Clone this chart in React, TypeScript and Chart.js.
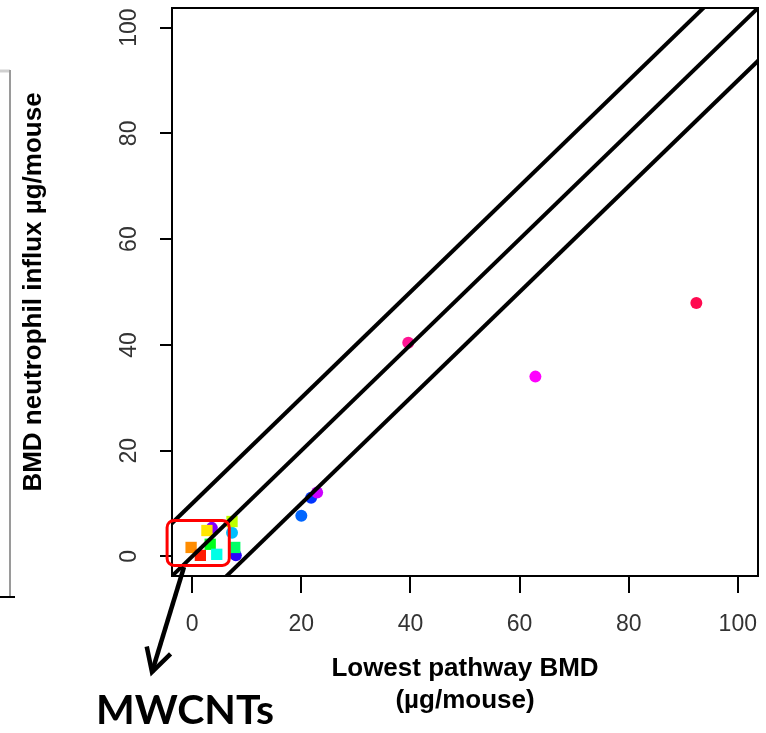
import React, { useEffect, useRef } from 'react';
import { Chart, registerables } from 'chart.js';

Chart.register(...registerables);

// ---- data ----
const X_TICKS = [0, 20, 40, 60, 80, 100];
const Y_TICKS = [0, 20, 40, 60, 80, 100];
const AXIS_MIN = -3.7;
const AXIS_MAX = 103.7;

const X_TITLE = ['Lowest pathway BMD', '(µg/mouse)'];
const Y_TITLE = 'BMD neutrophil influx µg/mouse';
const CALLOUT = 'MWCNTs';

// square markers (pch 15)
const squareX = [-0.2, 1.5, 2.7, 7.3, 3.3, 7.8, 4.5];
const squareY = [1.7, 0.2, 4.9, 6.6, 2.3, 1.7, 0.4];
const squareColors = ['#FF8C00', '#FF1A00', '#FFE600', '#BFFF00', '#00FF1A', '#00FF66', '#00FFE6'];

// circle markers (pch 19)
const circleX = [3.6, 7.3, 8.0, 20.0, 21.8, 22.9, 39.6, 62.9, 92.4];
const circleY = [5.4, 4.5, 0.2, 7.7, 11.1, 12.1, 40.4, 34.0, 47.9];
const circleColors = ['#8000FF', '#00BFFF', '#2A00FF', '#0066FF', '#0033FF', '#CC00FF', '#FF1493', '#FF00FF', '#FF0A50'];

// reference lines: y = x + 10, y = x, y = x - 10
const diagX = [-20, 130];
const upperY = [-10, 140];
const identY = [-20, 130];
const lowerY = [-30, 120];

const toPts = (xs: number[], ys: number[]) => xs.map((x, i) => ({ x, y: ys[i] }));

const noPad = (s: any) => {
  s.paddingTop = 0;
  s.paddingBottom = 0;
  s.paddingLeft = 0;
  s.paddingRight = 0;
};

const annotations = {
  id: 'annotations',
  afterDraw(chart: any) {
    const { ctx, chartArea, scales } = chart;
    const xs = scales.x;
    const ys = scales.y;
    ctx.save();
    // plot box
    ctx.strokeStyle = '#000';
    ctx.lineWidth = 2;
    ctx.strokeRect(chartArea.left, chartArea.top, chartArea.right - chartArea.left, chartArea.bottom - chartArea.top);

    // red rounded rectangle around MWCNT cluster
    const rx1 = xs.getPixelForValue(-4.6);
    const rx2 = xs.getPixelForValue(6.8);
    const ry1 = ys.getPixelForValue(6.8);
    const ry2 = ys.getPixelForValue(-1.7);
    ctx.strokeStyle = '#FF0000';
    ctx.lineWidth = 3;
    ctx.beginPath();
    (ctx as any).roundRect(rx1, ry1, rx2 - rx1, ry2 - ry1, 7);
    ctx.stroke();

    // arrow
    const sx = 184, sy = 567, tx = 152, ty = 672;
    ctx.strokeStyle = '#000';
    ctx.lineWidth = 4.5;
    ctx.lineCap = 'butt';
    ctx.beginPath();
    ctx.moveTo(sx, sy);
    ctx.lineTo(tx, ty);
    ctx.stroke();
    const ang = Math.atan2(ty - sy, tx - sx);
    const hl = 26;
    ctx.lineJoin = 'miter';
    ctx.beginPath();
    ctx.moveTo(tx + hl * Math.cos(ang + Math.PI - 0.5), ty + hl * Math.sin(ang + Math.PI - 0.5));
    ctx.lineTo(tx, ty);
    ctx.lineTo(tx + hl * Math.cos(ang + Math.PI + 0.5), ty + hl * Math.sin(ang + Math.PI + 0.5));
    ctx.stroke();

    // callout text
    ctx.fillStyle = '#000';
    ctx.font = 'bold 41px Lato, "Liberation Sans", Arial, sans-serif';
    ctx.textAlign = 'left';
    ctx.textBaseline = 'middle';
    ctx.fillText(CALLOUT, 96, 711);

    // fragment of neighbouring panel frame
    ctx.strokeStyle = '#d0d0d0';
    ctx.lineWidth = 3;
    ctx.beginPath();
    ctx.moveTo(0, 71);
    ctx.lineTo(10, 71);
    ctx.stroke();
    ctx.strokeStyle = '#9a9a9a';
    ctx.lineWidth = 2;
    ctx.beginPath();
    ctx.moveTo(10, 70);
    ctx.lineTo(10, 596);
    ctx.stroke();
    ctx.strokeStyle = '#000';
    ctx.lineWidth = 2;
    ctx.beginPath();
    ctx.moveTo(0, 597);
    ctx.lineTo(15, 597);
    ctx.stroke();
    ctx.restore();
  },
};

export default function App() {
  const ref = useRef<HTMLCanvasElement>(null);
  useEffect(() => {
    document.body.style.margin = '0';
    const lineDs = (ys: number[]) => ({
      type: 'line' as const,
      data: toPts(diagX, ys),
      borderColor: '#000',
      borderWidth: 4,
      pointRadius: 0,
      fill: false,
      clip: 0,
      order: 0,
    });
    const chart = new Chart(ref.current!, {
      type: 'scatter',
      data: {
        datasets: [
          lineDs(upperY) as any,
          lineDs(identY) as any,
          lineDs(lowerY) as any,
          {
            data: toPts(squareX, squareY),
            pointStyle: 'rect',
            pointRadius: 8,
            pointBackgroundColor: squareColors,
            pointBorderWidth: 0,
            order: 1,
          },
          {
            data: toPts(circleX, circleY),
            pointStyle: 'circle',
            pointRadius: 6,
            pointBackgroundColor: circleColors,
            pointBorderWidth: 0,
            order: 1,
          },
        ],
      },
      options: {
        animation: false,
        responsive: false,
        devicePixelRatio: 1,
        layout: { padding: { left: 0, top: 7, right: 4, bottom: 0 } },
        plugins: { legend: { display: false }, tooltip: { enabled: false } },
        scales: {
          x: {
            type: 'linear',
            min: AXIS_MIN,
            max: AXIS_MAX,
            afterBuildTicks: (s: any) => { s.ticks = X_TICKS.map((v) => ({ value: v })); },
            afterFit: (s: any) => { s.height = 157; noPad(s); },
            grid: { drawOnChartArea: false, drawTicks: true, tickLength: 17, color: '#000', lineWidth: 2 },
            border: { display: false },
            ticks: {
              autoSkip: false,
              maxRotation: 0,
              padding: 18,
              color: '#333',
              font: { family: '"Liberation Sans", Arial, sans-serif', size: 23 },
            },
            title: {
              display: true,
              text: X_TITLE,
              color: '#000',
              font: { family: '"Liberation Sans", Arial, sans-serif', size: 26, weight: 'bold' },
              padding: { top: 0, bottom: 17 },
            },
          },
          y: {
            type: 'linear',
            min: AXIS_MIN,
            max: AXIS_MAX,
            afterBuildTicks: (s: any) => { s.ticks = Y_TICKS.map((v) => ({ value: v })); },
            afterFit: (s: any) => { s.width = 172; noPad(s); },
            grid: { drawOnChartArea: false, drawTicks: true, tickLength: 12, color: '#000', lineWidth: 2 },
            border: { display: false },
            ticks: {
              autoSkip: false,
              minRotation: 90,
              maxRotation: 90,
              crossAlign: 'center',
              padding: 11,
              color: '#333',
              font: { family: '"Liberation Sans", Arial, sans-serif', size: 23 },
            },
            title: {
              display: true,
              text: Y_TITLE,
              color: '#000',
              font: { family: '"Liberation Sans", Arial, sans-serif', size: 26, weight: 'bold' },
              padding: { top: 18, bottom: 0 },
            },
          },
        },
      },
      plugins: [annotations],
    });
    return () => chart.destroy();
  }, []);
  return (
    <div style={{ width: 766, height: 733, background: '#fff' }}>
      <canvas ref={ref} width={766} height={733} style={{ display: 'block', width: 766, height: 733 }} />
    </div>
  );
}
